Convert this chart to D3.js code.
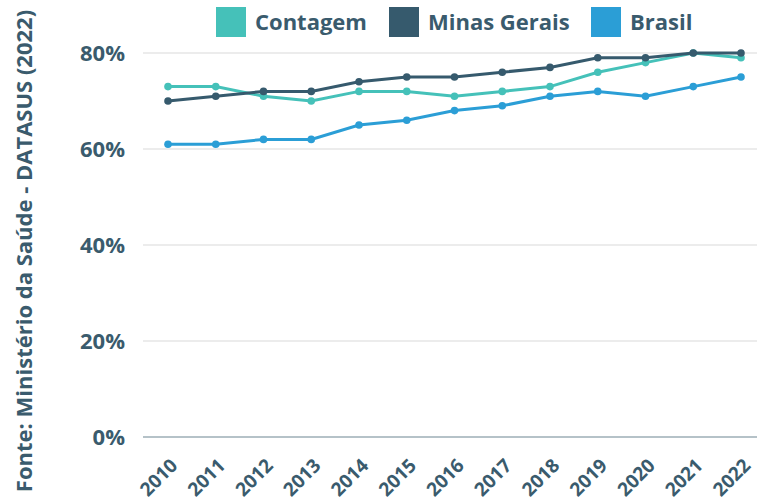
<!DOCTYPE html>
<html>
<head>
<meta charset="utf-8">
<script src="https://cdn.jsdelivr.net/npm/d3@7"></script>
<style>
  body { margin: 0; background: #fff; }
  svg text { font-family: "Open Sans", sans-serif; font-weight: 700; }
</style>
</head>
<body>
<div id="chart"></div>
<script>
const years = ["2010","2011","2012","2013","2014","2015","2016","2017","2018","2019","2020","2021","2022"];
const contagem = [73, 73, 71, 70, 72, 72, 71, 72, 73, 76, 78, 80, 79];
const minasGerais = [70, 71, 72, 72, 74, 75, 75, 76, 77, 79, 79, 80, 80];
const brasil = [61, 61, 62, 62, 65, 66, 68, 69, 71, 72, 71, 73, 75];
const yTicks = [0, 20, 40, 60, 80];

const series = [
  { name: "Contagem", color: "#45c1b9", values: contagem },
  { name: "Minas Gerais", color: "#365a6d", values: minasGerais },
  { name: "Brasil", color: "#2b9ed6", values: brasil },
];
const textColor = "#3a5b6d";

const W = 757, H = 503;
const svg = d3.select("#chart").append("svg").attr("width", W).attr("height", H);

const x = d3.scalePoint().domain(years).range([168, 741]);
const y = d3.scaleLinear().domain([0, 80]).range([437, 53]);

// grid
svg.append("g").selectAll("line").data(yTicks).join("line")
  .attr("x1", 143).attr("x2", W)
  .attr("y1", d => y(d)).attr("y2", d => y(d))
  .attr("stroke", d => d === 0 ? "#b5c2c8" : "#d9d9d9")
  .attr("stroke-width", d => d === 0 ? 2 : 1.2);

// y labels
svg.append("g").selectAll("text").data(yTicks).join("text")
  .attr("x", 125).attr("y", d => y(d)).attr("dy", "0.35em")
  .attr("text-anchor", "end").attr("fill", textColor).attr("font-size", 22)
  .text(d => d + "%");

// x labels
svg.append("g").selectAll("text").data(years).join("text")
  .attr("transform", d => `translate(${x(d) + 6},${462}) rotate(-45)`)
  .attr("text-anchor", "end").attr("dy", "0.35em")
  .attr("fill", textColor).attr("font-size", 19)
  .text(d => d);

// source
svg.append("text")
  .attr("transform", `translate(32,251) rotate(-90)`)
  .attr("text-anchor", "middle").attr("fill", textColor).attr("font-size", 22)
  .text("Fonte: Ministério da Saúde - DATASUS (2022)");

// lines
const line = d3.line().x((d, i) => x(years[i])).y(d => y(d));
series.forEach(s => {
  svg.append("path").datum(s.values)
    .attr("d", line).attr("fill", "none")
    .attr("stroke", s.color).attr("stroke-width", 3);
  svg.append("g").selectAll("circle").data(s.values).join("circle")
    .attr("cx", (d, i) => x(years[i])).attr("cy", d => y(d))
    .attr("r", 3.8).attr("fill", s.color);
});

// legend
const legendX = [216, 389, 591];
series.forEach((s, i) => {
  const g = svg.append("g").attr("transform", `translate(${legendX[i]},7)`);
  g.append("rect").attr("width", 30).attr("height", 30).attr("fill", s.color);
  g.append("text").attr("x", 39).attr("y", 15).attr("dy", "0.35em")
    .attr("fill", textColor).attr("font-size", 22).text(s.name);
});
</script>
</body>
</html>
